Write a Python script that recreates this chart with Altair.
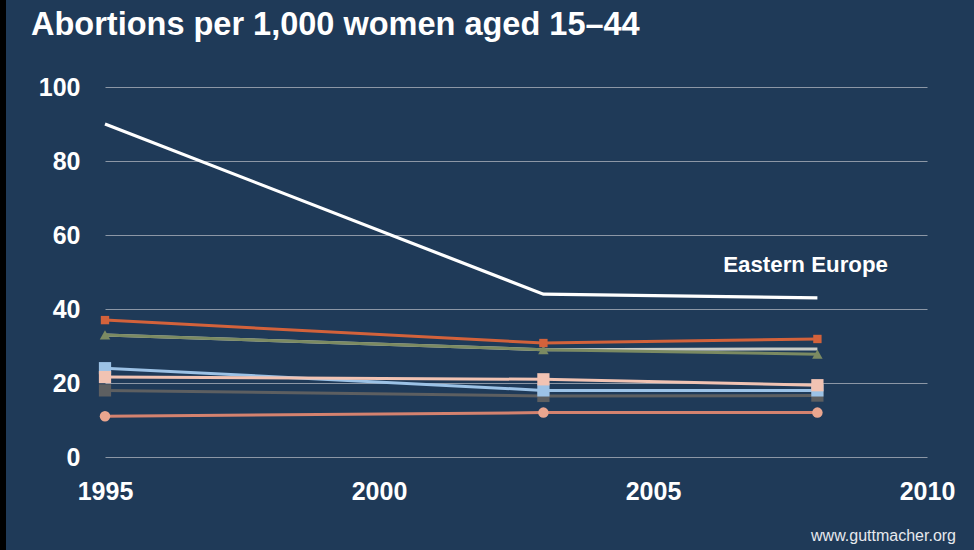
import altair as alt
import pandas as pd

years = [1995, 2003, 2008]
series_names = ["Grey", "Dark grey", "Salmon", "Light blue", "Peach", "Green", "Orange", "Eastern Europe"]
values = {
    "Grey": [33, 29, 29.2],
    "Dark grey": [18, 16.5, 16.6],
    "Salmon": [11, 12, 12],
    "Light blue": [24, 18, 18],
    "Peach": [21.6, 21, 19.4],
    "Green": [33, 29, 27.8],
    "Orange": [37, 30.8, 31.9],
    "Eastern Europe": [90, 44, 43],
}
line_colors = {
    "Grey": "#c9cbc6", "Dark grey": "#5d5f61", "Salmon": "#d4826f", "Light blue": "#9cc2e6",
    "Peach": "#f1c3b3", "Green": "#7b8a62", "Orange": "#d3623b", "Eastern Europe": "#ffffff",
}
marker_colors = {
    "Dark grey": "#5d5f61", "Salmon": "#eaa68f", "Light blue": "#9cc2e6",
    "Peach": "#f1c3b3", "Green": "#7b8a62", "Orange": "#d3623b",
}
marker_shapes = {
    "Dark grey": "square", "Salmon": "circle", "Light blue": "square",
    "Peach": "square", "Green": "triangle-up", "Orange": "square",
}
marker_sizes = {
    "Dark grey": 150, "Salmon": 110, "Light blue": 150,
    "Peach": 150, "Green": 110, "Orange": 70,
}
y_ticks = [0, 20, 40, 60, 80, 100]
x_ticks = [1995, 2000, 2005, 2010]

FONT = "Liberation Sans"
BG = "#1f3a58"

rows = []
for s in series_names:
    for yr, v in zip(years, values[s]):
        rows.append({"series": s, "year": yr, "value": v})
df = pd.DataFrame(rows)

xscale = alt.Scale(domain=[1995, 2010], nice=False, zero=False)
yscale = alt.Scale(domain=[0, 100], nice=False)

base = alt.Chart(df)

xaxis = alt.Axis(values=x_ticks, format="d", labelFont=FONT, labelFontSize=25, labelFontWeight="bold",
                 labelColor="white", labelPadding=22, domain=False, ticks=False, grid=False, title=None,
                 labelFlush=False)
yaxis = alt.Axis(values=y_ticks, labelFont=FONT, labelFontSize=25, labelFontWeight="bold",
                 labelColor="white", labelPadding=25, domain=False, ticks=False, grid=True,
                 gridColor="#8c97a6", gridWidth=1.2, title=None)

layers = []
# axes carrier
layers.append(base.mark_line(opacity=0).encode(
    x=alt.X("year:Q", scale=xscale, axis=xaxis),
    y=alt.Y("value:Q", scale=yscale, axis=yaxis),
    detail="series:N",
))
for s in series_names:
    sub = base.transform_filter(alt.datum.series == s)
    layers.append(sub.mark_line(color=line_colors[s], strokeWidth=3.2 if s == "Eastern Europe" else 3).encode(
        x=alt.X("year:Q", scale=xscale), y=alt.Y("value:Q", scale=yscale)))
    if s in marker_shapes:
        layers.append(sub.mark_point(shape=marker_shapes[s], filled=True, opacity=1,
                                     color=marker_colors[s], size=marker_sizes[s]).encode(
            x=alt.X("year:Q", scale=xscale), y=alt.Y("value:Q", scale=yscale)))

title = alt.Chart(pd.DataFrame({"t": ["Abortions per 1,000 women aged 15–44"]})).mark_text(
    font=FONT, fontSize=32.5, fontWeight="bold", color="white", align="left", baseline="alphabetic"
).encode(x=alt.value(-74), y=alt.value(-52), text="t:N")

ee_label = alt.Chart(pd.DataFrame({"t": ["Eastern Europe"]})).mark_text(
    font=FONT, fontSize=22.3, fontWeight="bold", color="white", align="right", baseline="middle"
).encode(x=alt.value(783), y=alt.value(178), text="t:N")

source = alt.Chart(pd.DataFrame({"t": ["www.guttmacher.org"]})).mark_text(
    font=FONT, fontSize=16, color="#e6e9ee", align="right", baseline="middle"
).encode(x=alt.value(851), y=alt.value(449), text="t:N")

border = alt.Chart(pd.DataFrame({"a": [0]})).mark_rule(color="black", strokeWidth=6).encode(
    x=alt.value(-102), y=alt.value(-90), y2=alt.value(470))

chart = alt.layer(*layers, title, ee_label, source, border).properties(
    width=822, height=370, background=BG,
    padding={"left": 105, "top": 87, "right": 47, "bottom": 93},
    autosize=alt.AutoSizeParams(type="none"),
).configure_view(stroke=None)

chart.save("out.html", embed_options={"renderer": "svg", "actions": False})
